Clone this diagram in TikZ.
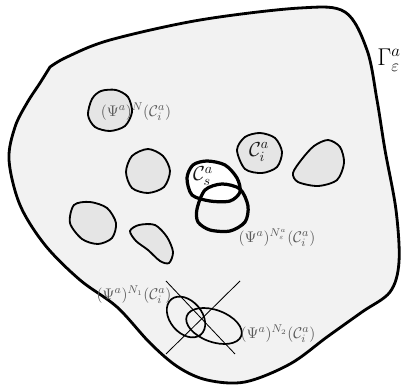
\documentclass[tikz,border=0pt]{standalone}
\usepackage{amsmath}
\usetikzlibrary{positioning}

\begin{document}
\begin{tikzpicture}[x=0.025cm,y=-0.025cm,
  blob/.style={draw=black,fill=black!10,line width=1.3pt},
  thickblob/.style={draw=black,line width=2.3pt},
  thinring/.style={draw=black,line width=1.2pt},
  crossline/.style={draw=black,line width=0.6pt},
  lbl/.style={text=black!65,inner sep=0pt,font=\fontsize{11}{13}\selectfont},
  biglbl/.style={text=black!90,inner sep=0pt,font=\Large}]
\useasboundingbox (0,0) rectangle (402,385);

% outer domain
\draw[fill=black!5,line width=2pt] plot[smooth,tension=0.55] coordinates {
  (50,67) (67,57) (110,40) (200,20) (300,8) (345,12) (367,50) (377,100)
  (385,150) (396,210) (399,262) (390,292) (362,312) (327,337)
  (290,364) (245,382) (207,380) (178,367) (150,343) (117,307)
  (80,280) (45,245) (20,205) (9,160) (15,127) (27,103) (40,83) (50,67)} -- cycle;
\node[biglbl,text=black,font=\LARGE] (gam) at (389,60) {$\Gamma^a_\varepsilon$};

% inclusions
\draw[blob] plot[smooth cycle] coordinates {
  (92,99) (101,91) (116,90) (128,97) (132,112) (125,126) (110,131) (95,127) (88,115)};
\draw[blob] plot[smooth cycle] coordinates {
  (148,149) (163,156) (170,171) (164,187) (148,193) (132,188) (126,172) (132,156)};
\draw[blob] plot[smooth cycle] coordinates {
  (74,205) (90,202) (107,208) (116,223) (112,238) (98,244) (82,239) (70,223)};
\draw[blob] plot[smooth cycle] coordinates {
  (130,231) (139,225) (155,225) (167,237) (173,252) (169,263) (160,261) (148,250) (136,241)};
\draw[blob] plot[smooth cycle] coordinates {
  (237,150) (245,137) (260,133) (275,138) (282,152) (277,167) (262,173) (245,169)};
\draw[blob] plot[smooth cycle] coordinates {
  (293,173) (302,159) (314,146) (328,140) (340,147) (344,163) (337,180) (318,186) (298,182)};

% C_s and its image
\draw[thickblob,fill=white] plot[smooth cycle] coordinates {
  (187,178) (193,165) (207,161) (225,165) (237,178) (240,192) (230,201) (210,201) (192,195)};
\draw[thickblob] plot[smooth cycle] coordinates {
  (197,209) (205,190) (222,184) (240,189) (248,206) (245,222) (230,231) (210,230) (198,222)};

\node[lbl] (psiN) at (136,112) {$(\Psi^a)^N(\mathcal{C}^a_i)$};
\node[biglbl] (ci) at (259,152) {$\mathcal{C}^a_i$};
\node[biglbl] (cs) at (203,176) {$\mathcal{C}^a_s$};
\node[lbl] (psiNe) at (277,238) {$(\Psi^a)^{N^a_\varepsilon}(\mathcal{C}^a_i)$};

% crossed images
\coordinate (xa) at (166,281);
\coordinate (xb) at (235,354);
\coordinate (xc) at (240,281);
\coordinate (xd) at (166,354);
\draw[crossline] (xa) -- (xb);
\draw[crossline] (xc) -- (xd);
\draw[thinring,rotate around={-50:(186,317)}] (186,317) ellipse [x radius=23, y radius=16];
\draw[thinring,rotate around={-20:(214,326)}] (214,326) ellipse [x radius=29, y radius=16];

\node[lbl] (psi1) at (134,295) {$(\Psi^a)^{N_1}(\mathcal{C}^a_i)$};
\node[lbl] (psi2) at (278,334) {$(\Psi^a)^{N_2}(\mathcal{C}^a_i)$};
\end{tikzpicture}
\end{document}
